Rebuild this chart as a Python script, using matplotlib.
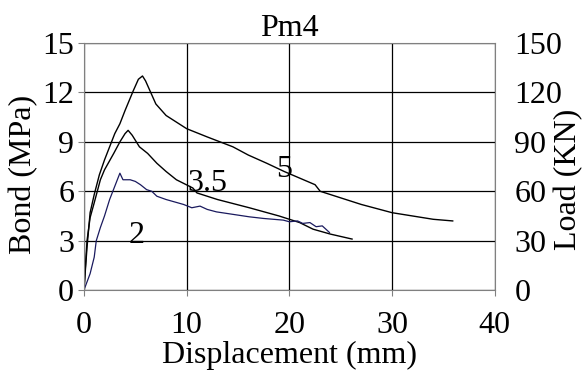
import matplotlib.pyplot as plt

plt.rcParams['font.family'] = 'Liberation Serif'

# curve "5"
x5 = [0, 0.3, 0.6, 1.0, 1.5, 2.0, 2.5, 3.0, 3.5, 4.0, 4.8, 5.3, 5.7, 6.0, 6.5, 7.0,
      8.0, 9.0, 10.0, 12.0, 14.5, 16.0, 17.8, 19.5, 21.0, 22.5, 23.0, 25.0, 27.0,
      30.0, 32.0, 34.0, 35.9]
y5 = [0, 2.6, 4.7, 5.8, 7.0, 7.9, 8.7, 9.5, 10.1, 10.9, 12.1, 12.8, 13.0, 12.7, 12.0, 11.3,
      10.6, 10.2, 9.8, 9.3, 8.7, 8.2, 7.7, 7.2, 6.8, 6.4, 6.0, 5.6, 5.2,
      4.7, 4.5, 4.3, 4.2]

# curve "3.5"
x35 = [0, 0.3, 0.6, 1.0, 1.6, 2.0, 2.9, 3.5, 4.0, 4.3, 4.7, 5.4, 6.2, 7.1, 8.0, 9.0,
       10.6, 11.0, 13.0, 16.1, 19.0, 21.0, 22.3, 24.0, 26.1]
y35 = [0, 3.0, 4.4, 5.3, 6.7, 7.3, 8.3, 9.0, 9.5, 9.7, 9.4, 8.7, 8.3, 7.7, 7.2, 6.7,
       6.2, 5.9, 5.5, 5.0, 4.5, 4.1, 3.7, 3.4, 3.1]

# curve "2"
x2 = [0, 0.6, 1.0, 1.2, 1.6, 2.0, 2.5, 3.0, 3.5, 3.8, 4.5, 5.0, 5.5, 6.1, 6.6, 7.1,
      8.0, 9.7, 10.5, 11.3, 12.0, 12.9, 14.5, 16.1, 17.5, 19.4, 20.0, 20.8, 21.3,
      22.0, 22.6, 23.2, 23.9]
y2 = [0, 1.0, 2.0, 3.0, 3.8, 4.5, 5.5, 6.3, 7.1, 6.7, 6.7, 6.6, 6.4, 6.1, 6.0, 5.7,
      5.5, 5.2, 5.0, 5.1, 4.9, 4.75, 4.6, 4.45, 4.35, 4.25, 4.15, 4.2, 4.05,
      4.1, 3.85, 3.9, 3.5]

labels = ["2", "3.5", "5"]
label_pos = [(5.1, 3.3), (12.0, 6.5), (19.5, 7.3)]

fs = 23

fig = plt.figure(figsize=(5.87, 3.71), dpi=100)
ax = fig.add_axes([0.143, 0.218, 0.700, 0.666])

ax.plot(x5, y5, color='black', lw=1.0)
ax.plot(x35, y35, color='black', lw=1.0)
ax.plot(x2, y2, color='#1a1a5e', lw=0.9)

for txt, (tx, ty) in zip(labels, label_pos):
    ax.text(tx, ty, txt, fontsize=fs, ha='center', va='center')

ax.set_xlim(0, 40)
ax.set_ylim(0, 15)
ax.set_xticks([0, 10, 20, 30, 40])
ax.set_yticks([0, 3, 6, 9, 12, 15])
ax.grid(True, color='black', lw=0.9)
ax.tick_params(labelsize=fs, direction='out', length=4, width=0.8, color='gray')
ax.tick_params(axis='x', pad=11)
ax.tick_params(axis='y', pad=3)
for s in ax.spines.values():
    s.set_color('gray')
ax.set_xlabel("Displacement (mm)", fontsize=fs, labelpad=1)
ax.set_ylabel("Bond (MPa)", fontsize=fs, labelpad=3)
ax.yaxis.label.set_y(0.47)
ax.set_title("Pm4", fontsize=fs, pad=2)

ax2 = ax.twinx()
ax2.set_ylim(0, 150)
ax2.set_yticks([0, 30, 60, 90, 120, 150])
ax2.tick_params(labelsize=fs, length=0, pad=14)
for s in ax2.spines.values():
    s.set_visible(False)
ax2.set_ylabel("Load (KN)", fontsize=fs, labelpad=-6)
ax2.yaxis.label.set_y(0.45)

fig.savefig("out.png", dpi=100)
